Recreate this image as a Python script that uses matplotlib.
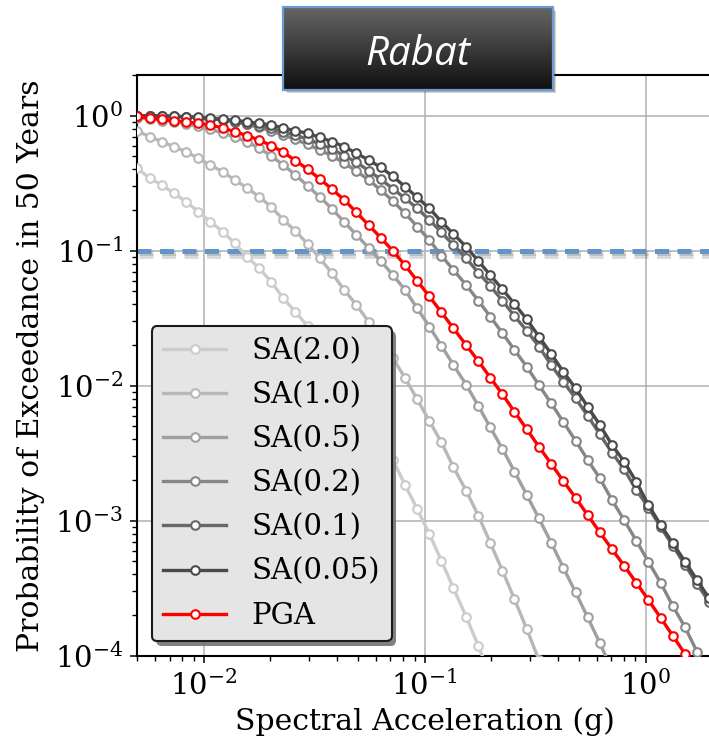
import matplotlib
matplotlib.use("Agg")
import matplotlib.pyplot as plt
import matplotlib.patheffects as pe
from matplotlib.patches import Rectangle
import numpy as np

plt.rcParams["font.family"] = "serif"
plt.rcParams["font.serif"] = ["DejaVu Serif"]
plt.rcParams["mathtext.fontset"] = "dejavuserif"

# intensity measure levels (g)
iml = [0.005, 0.00568, 0.00645, 0.00732, 0.00831, 0.00943, 0.0107, 0.0122, 0.0138,
       0.0157, 0.0178, 0.0202, 0.0229, 0.0260, 0.0295, 0.0335, 0.0381, 0.0432,
       0.0491, 0.0557, 0.0632, 0.0718, 0.0815, 0.0925, 0.105, 0.119, 0.135, 0.154,
       0.175, 0.198, 0.225, 0.255, 0.290, 0.329, 0.374, 0.424, 0.482, 0.547, 0.621,
       0.705, 0.800, 0.908, 1.03, 1.17, 1.33, 1.51, 1.71, 1.94, 2.21]

# probability of exceedance in 50 years, per intensity measure
poe_sa20 = [0.408, 0.344, 0.307, 0.266, 0.231, 0.195, 0.164, 0.138, 0.1135, 0.0903,
            0.0741, 0.0589, 0.0444, 0.0351, 0.0277, 0.0211, 0.0158, 0.0116, 0.0084,
            0.00597, 0.00417, 0.00282, 0.00184, 0.00122, 0.000796, 0.000506,
            0.000316, 0.000195, 0.000118, 0.0000710]
poe_sa10 = [0.770, 0.699, 0.642, 0.589, 0.541, 0.483, 0.431, 0.383, 0.334, 0.291,
            0.251, 0.211, 0.169, 0.140, 0.112, 0.0879, 0.0680, 0.0512, 0.0396,
            0.0298, 0.0218, 0.0160, 0.0114, 0.00793, 0.00548, 0.00381, 0.00249,
            0.00167, 0.00109, 0.000687, 0.000426, 0.000262, 0.000157, 0.0000930]
poe_sa05 = [0.961, 0.945, 0.921, 0.898, 0.868, 0.832, 0.790, 0.745, 0.695, 0.638,
            0.576, 0.503, 0.431, 0.364, 0.302, 0.250, 0.204, 0.163, 0.131, 0.105,
            0.0839, 0.0661, 0.0512, 0.0374, 0.0274, 0.0198, 0.0142, 0.0102, 0.00707,
            0.00492, 0.00340, 0.00231, 0.00155, 0.00104, 0.000687, 0.000449,
            0.000295, 0.000192, 0.000124, 0.0000780]
poe_sa02 = [0.995, 0.992, 0.988, 0.983, 0.976, 0.968, 0.953, 0.929, 0.898, 0.861,
            0.818, 0.770, 0.720, 0.667, 0.612, 0.557, 0.503, 0.446, 0.389, 0.334,
            0.282, 0.233, 0.189, 0.151, 0.120, 0.0918, 0.0720, 0.0557, 0.0426,
            0.0325, 0.0245, 0.0184, 0.0138, 0.0101, 0.00740, 0.00540, 0.00392,
            0.00282, 0.00206, 0.00142, 0.00101, 0.000711, 0.000497, 0.000347,
            0.000233, 0.000162, 0.000107, 0.0000710]
poe_sa01 = [0.998, 0.996, 0.993, 0.988, 0.980, 0.968, 0.950, 0.930, 0.905, 0.875,
            0.843, 0.805, 0.762, 0.719, 0.668, 0.620, 0.565, 0.505, 0.452, 0.392,
            0.338, 0.288, 0.244, 0.206, 0.169, 0.137, 0.110, 0.0880, 0.0687, 0.0548,
            0.0426, 0.0328, 0.0255, 0.0195, 0.0142, 0.0107, 0.00807, 0.00597,
            0.00436, 0.00319, 0.00240, 0.00169, 0.00125, 0.000900, 0.000650,
            0.000470, 0.000340, 0.000250, 0.000180]
poe_sa005 = [0.999, 0.997, 0.995, 0.992, 0.984, 0.972, 0.956, 0.940, 0.925, 0.900,
             0.878, 0.853, 0.810, 0.774, 0.740, 0.691, 0.642, 0.590, 0.526, 0.470,
             0.415, 0.355, 0.298, 0.248, 0.206, 0.164, 0.133, 0.107, 0.0839, 0.0660,
             0.0518, 0.0403, 0.0310, 0.0231, 0.0172, 0.0127, 0.00957, 0.00699,
             0.00512, 0.00364, 0.00274, 0.00194, 0.00131, 0.000930, 0.000680,
             0.000497, 0.000364, 0.000266, 0.000195]
poe_pga = [0.990, 0.957, 0.940, 0.920, 0.897, 0.878, 0.853, 0.810, 0.761, 0.711,
           0.660, 0.600, 0.536, 0.465, 0.401, 0.340, 0.285, 0.238, 0.192, 0.155,
           0.125, 0.0995, 0.0780, 0.0597, 0.0459, 0.0350, 0.0266, 0.0200, 0.0152,
           0.0115, 0.00863, 0.00641, 0.00475, 0.00353, 0.00264, 0.00197, 0.00148,
           0.00110, 0.00082, 0.000614, 0.000464, 0.000347, 0.000259, 0.000191,
           0.000140, 0.000103, 0.0000760]

labels = ["SA(2.0)", "SA(1.0)", "SA(0.5)", "SA(0.2)", "SA(0.1)", "SA(0.05)", "PGA"]
curves = [poe_sa20, poe_sa10, poe_sa05, poe_sa02, poe_sa01, poe_sa005, poe_pga]
colors = ["#cccccc", "#b8b8b8", "#a0a0a0", "#878787", "#686868", "#4a4a4a", "#ff0000"]
target_poe = 0.1
site = "Rabat"

fig = plt.figure(figsize=(7.09, 7.40), dpi=100)
ax = fig.add_axes([0.1937, 0.1139, 0.8106, 0.7847])

# Hazard curves
for lab, col, poe in zip(labels, colors, curves):
    ax.plot(iml[:len(poe)], poe, color=col, lw=2.4, marker="o", ms=6.2,
            mfc="white", mec=col, mew=1.5, label=lab, zorder=3)

ax.axhline(target_poe, color="#6495c8", lw=3.6, ls=(0, (2.8, 1.7)), zorder=2,
           path_effects=[pe.SimpleLineShadow(offset=(1.5, -3.5), shadow_color="0.3", alpha=0.2),
                         pe.SimpleLineShadow(offset=(1, -2), shadow_color="0.3", alpha=0.2),
                         pe.Normal()])

ax.set_xscale("log")
ax.set_yscale("log")
ax.set_xlim(0.005, 2.0)
ax.set_ylim(1e-4, 2.0)
ax.grid(True, which="major", color="#b0b0b0", lw=1.1)
ax.set_axisbelow(True)
for s in ax.spines.values():
    s.set_linewidth(1.5)
ax.tick_params(which="major", length=5.3, width=1.1, labelsize=21, pad=5)
ax.tick_params(which="minor", length=3.4, width=1.0)
ax.set_xlabel("Spectral Acceleration (g)", fontsize=21.5, labelpad=5)
ax.set_ylabel("Probability of Exceedance in 50 Years", fontsize=21.5, labelpad=7)

leg = ax.legend(loc="lower left", fontsize=21, handlelength=2.16, handletextpad=0.86,
                labelspacing=0.55, borderaxespad=0.49, fancybox=True, framealpha=1,
                facecolor="#e5e5e5", edgecolor="#1a1a1a")
leg.get_frame().set_linewidth(1.5)
leg.get_frame().set_path_effects([pe.withSimplePatchShadow(offset=(3.5, -3.5),
                                                           shadow_rgbFace="0.45", alpha=0.9)])

# Title box
bx, by, bw, bh = 0.3996, 0.8784, 0.3799, 0.1117
for off, a in [(3.5, 0.25), (2.5, 0.3)]:
    fig.add_artist(Rectangle((bx + off / 709, by - off / 740), bw, bh,
                             transform=fig.transFigure, fc="0.35", ec="none",
                             alpha=a, zorder=4))
tax = fig.add_axes([bx, by, bw, bh])
tax.set_zorder(5)
grad = np.linspace(0.40, 0.06, 100).reshape(-1, 1)
tax.imshow(grad, cmap="gray", vmin=0, vmax=1, aspect="auto", extent=[0, 1, 0, 1])
tax.set_axis_off()
tax.add_patch(Rectangle((0, 0), 1, 1, transform=tax.transAxes, fill=False,
                        ec="#6a9bd3", lw=1.6, clip_on=False))
tax.text(0.5, 0.30, site, ha="center", va="baseline", color="white", fontsize=29,
         fontstyle="italic", family="Open Sans", transform=tax.transAxes)

fig.savefig("out.png", dpi=100)
